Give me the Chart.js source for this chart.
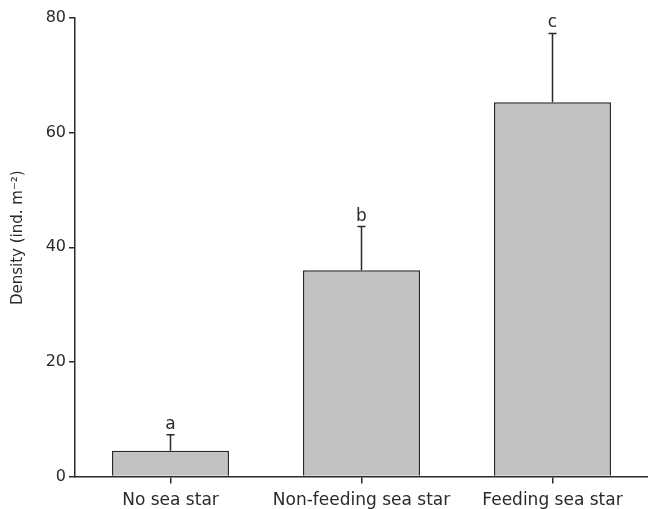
<!DOCTYPE html>
<html>
<head>
<meta charset="utf-8">
<script src="https://cdn.jsdelivr.net/npm/chart.js@4.4.1/dist/chart.umd.min.js"></script>
<style>
	html, body { margin: 0; padding: 0; background: #fff; overflow: hidden; }
	#wrap { width: 648px; height: 509px; }
</style>
</head>
<body>
<div id="wrap"><canvas id="barChart"></canvas></div>
<script>
const categories = ['No sea star', 'Non-feeding sea star', 'Feeding sea star'];
const density = [4.5, 36, 65.3];
const densityError = [2.8, 7.6, 12];
const groupLetters = ['a', 'b', 'c'];
const yTicks = [0, 20, 40, 60, 80];

const ink = '#2a2a2a';
const font = 'DejaVu Sans';

// error bars + significance letters drawn on top of the bars
const errorBars = {
	id: 'errorBars',
	afterDatasetsDraw(chart) {
		const ctx = chart.ctx;
		const yScale = chart.scales.y;
		const bars = chart.getDatasetMeta(0).data;
		ctx.save();
		ctx.strokeStyle = ink;
		ctx.lineWidth = 1.5;
		bars.forEach((bar, i) => {
			const yTop = yScale.getPixelForValue(density[i] + densityError[i]);
			ctx.beginPath();
			ctx.moveTo(bar.x, bar.y);
			ctx.lineTo(bar.x, yTop);
			ctx.moveTo(bar.x - 4, yTop);
			ctx.lineTo(bar.x + 4, yTop);
			ctx.stroke();

			ctx.fillStyle = ink;
			ctx.font = '17px ' + font;
			ctx.textAlign = 'center';
			ctx.textBaseline = 'bottom';
			ctx.fillText(groupLetters[i], bar.x, yTop - 2);
		});
		ctx.restore();
	}
};

new Chart(document.getElementById('barChart'), {
	type: 'bar',
	data: {
		labels: categories,
		datasets: [{
			data: density,
			backgroundColor: '#c2c2c2',
			borderColor: ink,
			borderWidth: 1.5,
			borderSkipped: 'bottom',
			barPercentage: 0.613,
			categoryPercentage: 1
		}]
	},
	options: {
		responsive: true,
		maintainAspectRatio: false,
		animation: false,
		layout: { padding: { top: 18, right: -3, left: 0, bottom: 0 } },   // axis runs off the right edge
		plugins: {
			legend: { display: false },
			tooltip: { enabled: false }
		},
		scales: {
			x: {
				grid: { offset: false, drawOnChartArea: false, drawTicks: true, tickLength: 7, color: ink, lineWidth: 1.5 },
				border: { display: true, color: ink, width: 1.5 },
				ticks: { color: ink, padding: 7, font: { family: font, size: 17 } },
				afterFit(scale) { scale.height = 32.5; }
			},
			y: {
				min: 0,
				max: 80,
				grid: { drawOnChartArea: false, drawTicks: true, tickLength: 6, color: ink, lineWidth: 1.5 },
				border: { display: true, color: ink, width: 1.5 },
				ticks: {
					color: ink,
					padding: 3,
					stepSize: 20,
					font: { family: font, size: 16 },
					callback: (v) => yTicks.includes(v) ? v : ''
				},
				title: {
					display: true,
					text: '    Density (ind. m\u207B\u00B2)',
					color: ink,
					font: { family: font, size: 15 },
					padding: { top: 9, bottom: 0 }
				},
				afterFit(scale) { scale.width = 75; }
			}
		}
	},
	plugins: [errorBars]
});
</script>
</body>
</html>
